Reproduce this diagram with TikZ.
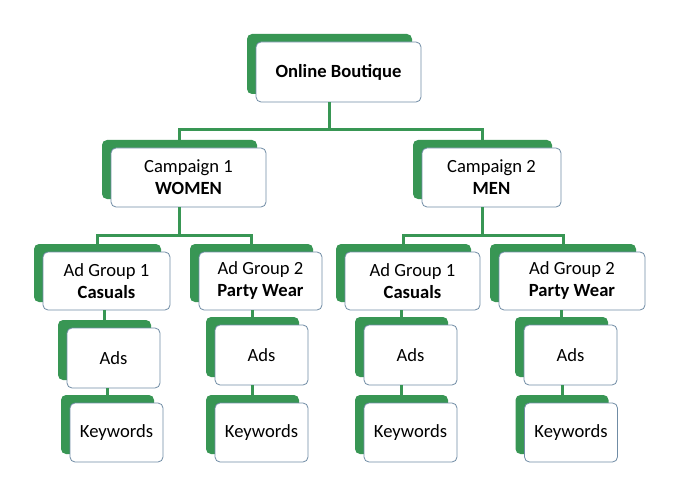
\documentclass[tikz,border=0pt]{standalone}
\usepackage{fontspec}
\setmainfont{Carlito}
\usepackage{xcolor}
\usepackage{tikz}
\usetikzlibrary{positioning}

\definecolor{boxgreen}{RGB}{56,150,84}
\definecolor{boxline}{RGB}{112,140,165}

\begin{document}
\begin{tikzpicture}[x=1pt, y=-1pt,
  back/.style={fill=boxgreen, rounded corners=5pt, minimum height=59pt, inner sep=0pt},
  box/.style={draw=boxline, line width=0.8pt, fill=white, rounded corners=5pt, minimum height=59pt, inner sep=0pt, align=center, font=\fontsize{18.6}{22}\selectfont},
  link/.style={draw=boxgreen, line width=3pt}
]
  \useasboundingbox[fill=white] (0,0) rectangle (680,500);

  % Root
  \node[back, minimum width=165pt, minimum height=60pt] (ob-g) at (329.5,64) {};
  \node[box, minimum width=165pt, minimum height=60pt] (ob) at ([shift={(9,8)}]ob-g) {\textbf{Online Boutique}};

  % Campaigns
  \node[back, minimum width=155pt] (c1-g) at (179.5,169.5) {};
  \node[box, minimum width=155pt] (c1) at ([shift={(9,8)}]c1-g) {Campaign 1\\\textbf{WOMEN}};
  \node[back, minimum width=139pt] (c2-g) at (482.5,169.5) {};
  \node[box, minimum width=139pt] (c2) at ([shift={(9,8)}]c2-g) {Campaign 2\\\textbf{MEN}};

  % Ad groups
  \node[back, minimum width=127pt, minimum height=58pt] (a1-g) at (97.5,273) {};
  \node[box, minimum width=127pt, minimum height=58pt] (a1) at ([shift={(9,8)}]a1-g) {Ad Group 1\\\textbf{Casuals}};
  \node[back, minimum width=123pt, minimum height=58pt] (a2-g) at (251.5,273) {};
  \node[box, minimum width=123pt, minimum height=58pt] (a2) at ([shift={(9,8)}]a2-g) {Ad Group 2\\\textbf{Party Wear}};
  \node[back, minimum width=135pt, minimum height=58pt] (a3-g) at (403.5,273) {};
  \node[box, minimum width=135pt, minimum height=58pt] (a3) at ([shift={(9,8)}]a3-g) {Ad Group 1\\\textbf{Casuals}};
  \node[back, minimum width=146pt, minimum height=58pt] (a4-g) at (563,273) {};
  \node[box, minimum width=146pt, minimum height=58pt] (a4) at ([shift={(9,8)}]a4-g) {Ad Group 2\\\textbf{Party Wear}};

  % Ads
  \node[back, minimum width=93pt, minimum height=60pt] (ads1-g) at (104.5,350) {};
  \node[box, minimum width=93pt, minimum height=60pt] (ads1) at ([shift={(9,8)}]ads1-g) {Ads};
  \node[back, minimum width=93pt, minimum height=60pt] (ads2-g) at (252.5,347) {};
  \node[box, minimum width=93pt, minimum height=60pt] (ads2) at ([shift={(9,8)}]ads2-g) {Ads};
  \node[back, minimum width=93pt, minimum height=60pt] (ads3-g) at (401.5,347) {};
  \node[box, minimum width=93pt, minimum height=60pt] (ads3) at ([shift={(9,8)}]ads3-g) {Ads};
  \node[back, minimum width=93pt, minimum height=60pt] (ads4-g) at (561.5,347) {};
  \node[box, minimum width=93pt, minimum height=60pt] (ads4) at ([shift={(9,8)}]ads4-g) {Ads};

  % Keywords
  \node[back, minimum width=93pt] (kw1-g) at (107.5,424.5) {};
  \node[box, minimum width=93pt] (kw1) at ([shift={(9,8)}]kw1-g) {Keywords};
  \node[back, minimum width=93pt] (kw2-g) at (252.5,424.5) {};
  \node[box, minimum width=93pt] (kw2) at ([shift={(9,8)}]kw2-g) {Keywords};
  \node[back, minimum width=93pt] (kw3-g) at (401.5,424.5) {};
  \node[box, minimum width=93pt] (kw3) at ([shift={(9,8)}]kw3-g) {Keywords};
  \node[back, minimum width=93pt] (kw4-g) at (562,424.5) {};
  \node[box, minimum width=93pt] (kw4) at ([shift={(9,8)}]kw4-g) {Keywords};

  % Connectors
  \coordinate (bar1) at (0,130);
  \coordinate (bar2) at (0,235);
  \draw[link] (ob-g |- ob.south) -- (ob-g |- bar1) -| (c1-g.north);
  \draw[link] (ob-g |- bar1) -| (c2-g.north);
  \draw[link] (c1-g |- c1.south) -- (c1-g |- bar2) -| (a1-g.north);
  \draw[link] (c1-g |- bar2) -| (a2-g.north);
  \draw[link] (c2-g |- c2.south) -- (c2-g |- bar2) -| (a3-g.north);
  \draw[link] (c2-g |- bar2) -| (a4-g.north);
  \draw[link] (ads1-g |- a1.south) -- (ads1-g.north);
  \draw[link] (ads2-g |- a2.south) -- (ads2-g.north);
  \draw[link] (ads3-g |- a3.south) -- (ads3-g.north);
  \draw[link] (ads4-g |- a4.south) -- (ads4-g.north);
  \draw[link] (kw1-g |- ads1.south) -- (kw1-g.north);
  \draw[link] (kw2-g |- ads2.south) -- (kw2-g.north);
  \draw[link] (kw3-g |- ads3.south) -- (kw3-g.north);
  \draw[link] (kw4-g |- ads4.south) -- (kw4-g.north);

\end{tikzpicture}
\end{document}
